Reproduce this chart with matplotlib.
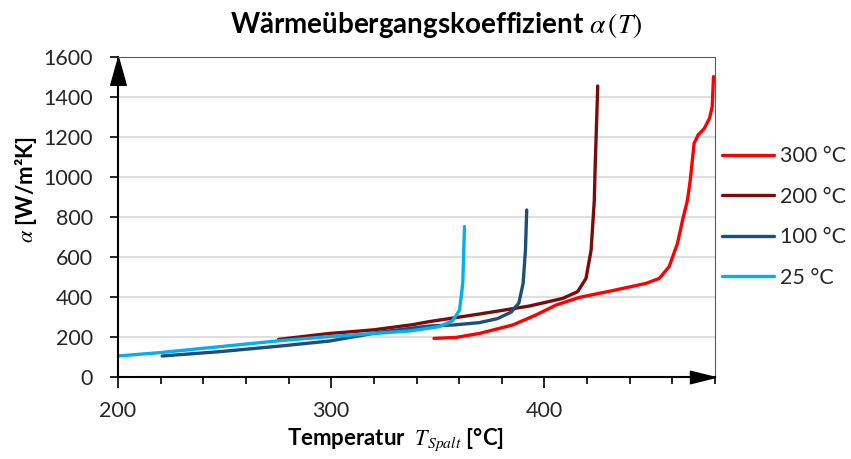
import numpy as np
import matplotlib
matplotlib.use("Agg")
import matplotlib.pyplot as plt
from matplotlib.ticker import MultipleLocator

plt.rcParams['font.family'] = ['Lato', 'DejaVu Sans']
plt.rcParams['mathtext.fontset'] = 'stix'

# data (temperature in °C, alpha in W/m²K)
t_300 = [348.2, 358.6, 369.6, 385.1, 396.0, 405.5, 416.4, 432.0, 447.6, 453.9,
         458.5, 462.4, 464.8, 467.1, 468.4, 470.2, 472.1, 475.0, 477.4, 478.7, 479.3]
a_300 = [193, 198, 218, 260, 310, 360, 398, 432, 468, 493,
         552, 668, 785, 885, 985, 1168, 1210, 1243, 1293, 1352, 1502]

t_200 = [275.3, 299.3, 304.5, 320.0, 338.4, 346.0, 369.6, 393.0, 408.6, 415.6, 419.5,
         421.9, 423.4, 423.7, 425.0]
a_200 = [188, 218, 222, 236, 262, 277, 315, 355, 393, 427, 493,
         635, 885, 1018, 1455]

t_100 = [220.7, 248.0, 276.3, 299.3, 323.4, 346.0, 357.2, 369.6, 378.0, 384.5, 388.0,
         390.0, 391.1, 391.7]
a_100 = [105, 127, 155, 180, 225, 255, 260, 272, 292, 325, 370,
         468, 635, 835]

t_25 = [200.0, 219.8, 276.3, 299.3, 336.8, 350.8, 357.0, 360.2, 361.7, 362.5]
a_25 = [105, 122, 182, 202, 230, 252, 282, 335, 468, 752]

series = [
    ("300 °C", t_300, a_300, "#FF0000"),
    ("200 °C", t_200, a_200, "#7B0C0C"),
    ("100 °C", t_100, a_100, "#1F4E79"),
    ("25 °C", t_25, a_25, "#00B0F0"),
]

fig = plt.figure(figsize=(8.51, 4.59), dpi=100)
ax = fig.add_axes([118 / 851, 1 - 377 / 459, (715 - 118) / 851, (377 - 57) / 459])

for label, t, a, col in series:
    ax.plot(t, a, color=col, lw=2.4, label=label, solid_capstyle='round')

ax.set_xlim(200, 480)
ax.set_ylim(0, 1600)
ax.xaxis.set_major_locator(MultipleLocator(100))
ax.xaxis.set_minor_locator(MultipleLocator(20))
ax.yaxis.set_major_locator(MultipleLocator(200))
ax.grid(axis='y', color='#D9D9D9', lw=1.2)
ax.set_axisbelow(True)

ax.tick_params(axis='y', length=6, width=1.2, pad=12, labelsize=15.5, labelcolor='#262626')
ax.tick_params(axis='x', which='major', length=8, width=1.2, pad=9, labelsize=15.5,
               labelcolor='#262626')
ax.tick_params(axis='x', which='minor', length=5, width=1.2)

for s in ['left', 'bottom']:
    ax.spines[s].set_color('black')
    ax.spines[s].set_linewidth(1.5)
for s in ['top', 'right']:
    ax.spines[s].set_color('#595959')
    ax.spines[s].set_linewidth(0.8)

# axis arrow heads
up = [(0, 0), (-0.28, -1), (0.28, -1), (0, 0)]
right = [(0, 0), (-1, 0.25), (-1, -0.25), (0, 0)]
ax.plot([0], [1], marker=up, ms=40, color='black', transform=ax.transAxes, clip_on=False)
ax.plot([1], [0], marker=right, ms=36, color='black', transform=ax.transAxes, clip_on=False)

fig.text(0.513, 0.945, r"Wärmeübergangskoeffizient $\alpha\,(T)$", ha='center', va='center',
         fontsize=20, fontweight='bold', color='black')
fig.text(0.465, 0.043, r"Temperatur  $T_{Spalt}$ [°C]", ha='center', va='center',
         fontsize=16, fontweight='bold', color='black')
fig.text(0.031, 0.586, r"$\alpha$ [W/m²K]", ha='center', va='center', rotation=90,
         fontsize=16, fontweight='bold', color='black')

fig.legend(loc='center left', bbox_to_anchor=(722 / 851, 0.527), frameon=False,
           borderaxespad=0, borderpad=0,
           fontsize=15.5, handlelength=2.4, handletextpad=0.3, labelspacing=0.95,
           labelcolor='#262626')

fig.savefig("out.png", dpi=100)
